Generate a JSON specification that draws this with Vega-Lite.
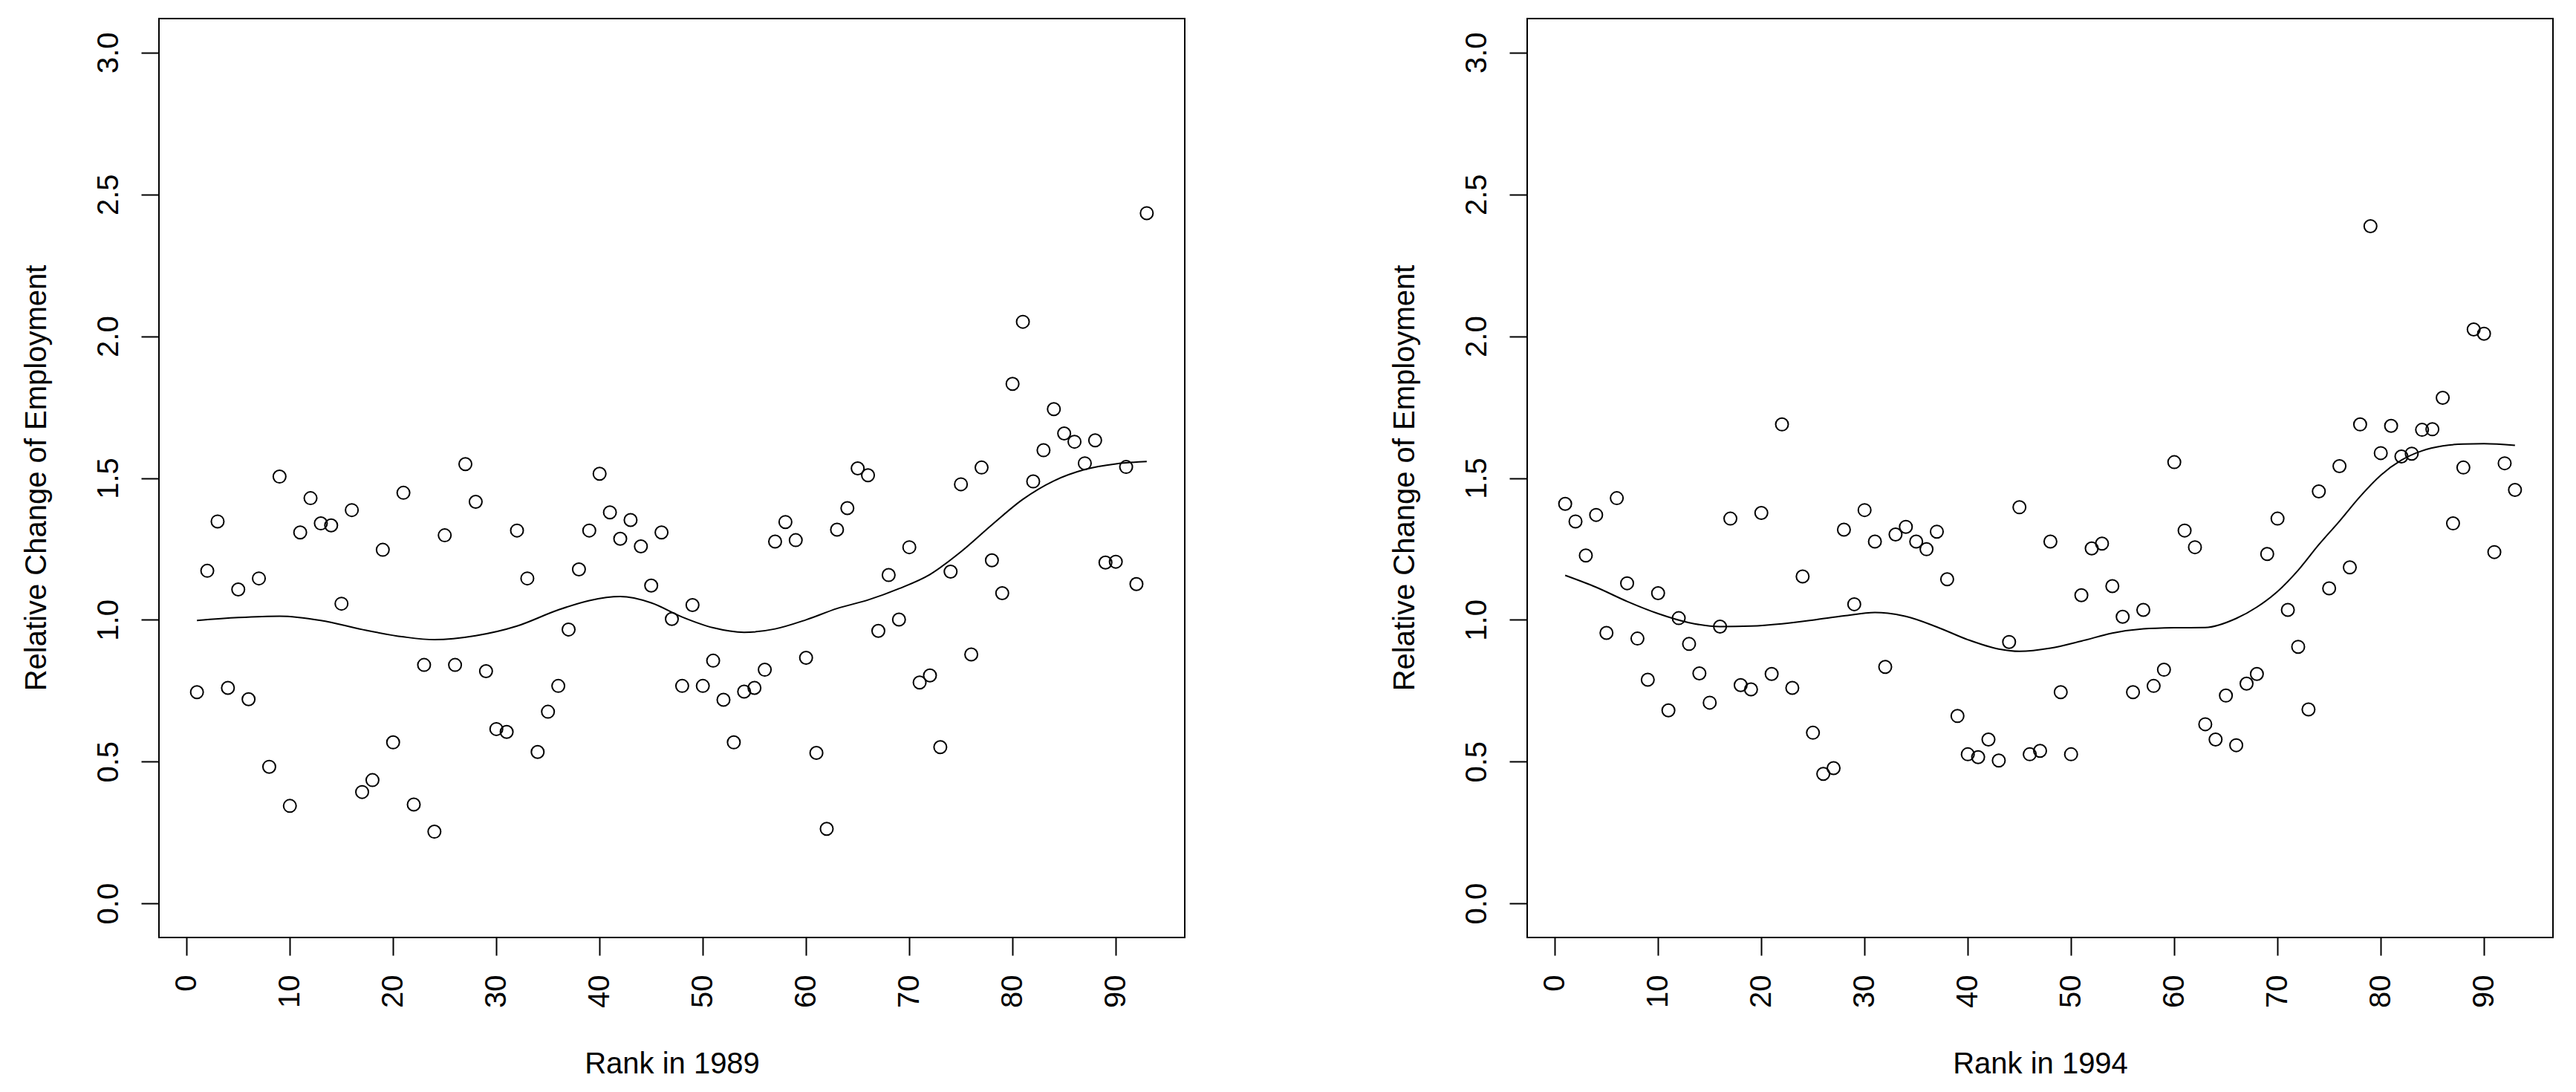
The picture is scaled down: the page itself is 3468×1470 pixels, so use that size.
{
  "$schema": "https://vega.github.io/schema/vega-lite/v6.json",
  "background": "white",
  "padding": {"left": 28, "top": 24, "right": 0, "bottom": 0},
  "config": {
    "font": "Liberation Sans",
    "view": {"stroke": "black", "strokeWidth": 2},
    "axis": {
      "domain": false, "grid": false,
      "tickSize": 24, "tickWidth": 2, "tickColor": "black",
      "labelFontSize": 40, "labelColor": "black", "labelOverlap": false, "labelFlush": false,
      "titleFontSize": 40, "titleFontWeight": "normal", "titleColor": "black"
    }
  },
  "datasets": {
    "p89": [
      {"r":1,"v":0.745},{"r":2,"v":1.173},{"r":3,"v":1.347},{"r":4,"v":0.76},{"r":5,"v":1.107},{"r":6,"v":0.72},{"r":7,"v":1.146},{"r":8,"v":0.482},{"r":9,"v":1.505},{"r":10,"v":0.344},
      {"r":11,"v":1.308},{"r":12,"v":1.429},{"r":13,"v":1.34},{"r":14,"v":1.333},{"r":15,"v":1.057},{"r":16,"v":1.387},{"r":17,"v":0.393},{"r":18,"v":0.435},{"r":19,"v":1.247},{"r":20,"v":0.568},
      {"r":21,"v":1.448},{"r":22,"v":0.349},{"r":23,"v":0.841},{"r":24,"v":0.253},{"r":25,"v":1.298},{"r":26,"v":0.841},{"r":27,"v":1.549},{"r":28,"v":1.416},{"r":29,"v":0.819},{"r":30,"v":0.615},
      {"r":31,"v":0.605},{"r":32,"v":1.315},{"r":33,"v":1.146},{"r":34,"v":0.534},{"r":35,"v":0.676},{"r":36,"v":0.767},{"r":37,"v":0.966},{"r":38,"v":1.178},{"r":39,"v":1.315},{"r":40,"v":1.515},
      {"r":41,"v":1.379},{"r":42,"v":1.286},{"r":43,"v":1.352},{"r":44,"v":1.259},{"r":45,"v":1.121},{"r":46,"v":1.308},{"r":47,"v":1.003},{"r":48,"v":0.767},{"r":49,"v":1.052},{"r":50,"v":0.767},
      {"r":51,"v":0.856},{"r":52,"v":0.718},{"r":53,"v":0.568},{"r":54,"v":0.747},{"r":55,"v":0.76},{"r":56,"v":0.824},{"r":57,"v":1.276},{"r":58,"v":1.345},{"r":59,"v":1.281},{"r":60,"v":0.866},
      {"r":61,"v":0.531},{"r":62,"v":0.263},{"r":63,"v":1.318},{"r":64,"v":1.394},{"r":65,"v":1.534},{"r":66,"v":1.51},{"r":67,"v":0.961},{"r":68,"v":1.158},{"r":69,"v":1.001},{"r":70,"v":1.256},
      {"r":71,"v":0.779},{"r":72,"v":0.804},{"r":73,"v":0.551},{"r":74,"v":1.17},{"r":75,"v":1.478},{"r":76,"v":0.878},{"r":77,"v":1.537},{"r":78,"v":1.21},{"r":79,"v":1.094},{"r":80,"v":1.832},
      {"r":81,"v":2.051},{"r":82,"v":1.488},{"r":83,"v":1.598},{"r":84,"v":1.743},{"r":85,"v":1.657},{"r":86,"v":1.628},{"r":87,"v":1.552},{"r":88,"v":1.633},{"r":89,"v":1.202},{"r":90,"v":1.205},
      {"r":91,"v":1.539},{"r":92,"v":1.126},{"r":93,"v":2.434}
    ],
    "p94": [
      {"r":1,"v":1.409},{"r":2,"v":1.347},{"r":3,"v":1.227},{"r":4,"v":1.37},{"r":5,"v":0.954},{"r":6,"v":1.429},{"r":7,"v":1.129},{"r":8,"v":0.934},{"r":9,"v":0.789},{"r":10,"v":1.094},
      {"r":11,"v":0.681},{"r":12,"v":1.006},{"r":13,"v":0.915},{"r":14,"v":0.811},{"r":15,"v":0.708},{"r":16,"v":0.976},{"r":17,"v":1.357},{"r":18,"v":0.77},{"r":19,"v":0.755},{"r":20,"v":1.377},
      {"r":21,"v":0.809},{"r":22,"v":1.689},{"r":23,"v":0.76},{"r":24,"v":1.153},{"r":25,"v":0.602},{"r":26,"v":0.457},{"r":27,"v":0.477},{"r":28,"v":1.318},{"r":29,"v":1.055},{"r":30,"v":1.387},
      {"r":31,"v":1.276},{"r":32,"v":0.834},{"r":33,"v":1.301},{"r":34,"v":1.328},{"r":35,"v":1.276},{"r":36,"v":1.249},{"r":37,"v":1.311},{"r":38,"v":1.143},{"r":39,"v":0.661},{"r":40,"v":0.526},
      {"r":41,"v":0.516},{"r":42,"v":0.578},{"r":43,"v":0.504},{"r":44,"v":0.922},{"r":45,"v":1.397},{"r":46,"v":0.526},{"r":47,"v":0.538},{"r":48,"v":1.276},{"r":49,"v":0.745},{"r":50,"v":0.526},
      {"r":51,"v":1.087},{"r":52,"v":1.252},{"r":53,"v":1.269},{"r":54,"v":1.119},{"r":55,"v":1.011},{"r":56,"v":0.745},{"r":57,"v":1.035},{"r":58,"v":0.767},{"r":59,"v":0.824},{"r":60,"v":1.556},
      {"r":61,"v":1.315},{"r":62,"v":1.256},{"r":63,"v":0.632},{"r":64,"v":0.578},{"r":65,"v":0.733},{"r":66,"v":0.558},{"r":67,"v":0.775},{"r":68,"v":0.809},{"r":69,"v":1.232},{"r":70,"v":1.357},
      {"r":71,"v":1.035},{"r":72,"v":0.905},{"r":73,"v":0.684},{"r":74,"v":1.453},{"r":75,"v":1.111},{"r":76,"v":1.542},{"r":77,"v":1.185},{"r":78,"v":1.689},{"r":79,"v":2.388},{"r":80,"v":1.588},
      {"r":81,"v":1.684},{"r":82,"v":1.576},{"r":83,"v":1.586},{"r":84,"v":1.67},{"r":85,"v":1.672},{"r":86,"v":1.783},{"r":87,"v":1.34},{"r":88,"v":1.537},{"r":89,"v":2.024},{"r":90,"v":2.009},
      {"r":91,"v":1.239},{"r":92,"v":1.552},{"r":93,"v":1.458}
    ],
    "s89": [
      {"r":1,"v":0.998},{"r":5,"v":1.008},{"r":9,"v":1.013},{"r":13,"v":0.998},{"r":17,"v":0.966},{"r":21,"v":0.94},{"r":24,"v":0.93},{"r":28,"v":0.944},
      {"r":32,"v":0.978},{"r":36,"v":1.035},{"r":39,"v":1.068},{"r":42,"v":1.082},{"r":45,"v":1.06},{"r":48,"v":1.01},{"r":51,"v":0.972},{"r":54,"v":0.956},
      {"r":57,"v":0.968},{"r":60,"v":1.0},{"r":63,"v":1.04},{"r":66,"v":1.07},{"r":69,"v":1.11},{"r":72,"v":1.16},{"r":75,"v":1.24},{"r":78,"v":1.335},
      {"r":81,"v":1.425},{"r":84,"v":1.49},{"r":87,"v":1.53},{"r":90,"v":1.55},{"r":93,"v":1.558}
    ],
    "s94": [
      {"r":1,"v":1.157},{"r":4,"v":1.115},{"r":7,"v":1.065},{"r":10,"v":1.022},{"r":13,"v":0.99},{"r":16,"v":0.976},{"r":19,"v":0.978},{"r":22,"v":0.986},
      {"r":25,"v":0.999},{"r":28,"v":1.014},{"r":31,"v":1.026},{"r":34,"v":1.012},{"r":37,"v":0.975},{"r":40,"v":0.93},{"r":43,"v":0.897},{"r":45,"v":0.889},
      {"r":48,"v":0.9},{"r":51,"v":0.925},{"r":54,"v":0.953},{"r":57,"v":0.968},{"r":60,"v":0.972},{"r":63,"v":0.973},{"r":66,"v":1.005},{"r":68,"v":1.045},
      {"r":70,"v":1.1},{"r":72,"v":1.175},{"r":74,"v":1.265},{"r":76,"v":1.348},{"r":78,"v":1.435},{"r":80,"v":1.51},{"r":82,"v":1.563},{"r":84,"v":1.596},
      {"r":86,"v":1.613},{"r":88,"v":1.62},{"r":90,"v":1.621},{"r":93,"v":1.615}
    ]
  },
  "spacing": 461,
  "bounds": "flush",
  "hconcat": [
    {
      "width": 1381,
      "height": 1237,
      "layer": [
        {
          "data": {"name": "p89"},
          "mark": {"type": "point", "shape": "circle", "filled": false, "size": 289, "strokeWidth": 2, "color": "black", "opacity": 1},
          "encoding": {
            "x": {"field": "r", "type": "quantitative", "title": "Rank in 1989",
              "scale": {"domain": [-2.68, 96.68], "nice": false, "zero": false},
              "axis": {"values": [0,10,20,30,40,50,60,70,80,90], "labelAngle": -90, "labelAlign": "right", "labelBaseline": "middle", "labelPadding": 26, "titleBaseline": "alphabetic", "titleY": 182}},
            "y": {"field": "v", "type": "quantitative", "title": "Relative Change of Employment",
              "scale": {"domain": [-0.12, 3.12], "nice": false, "zero": false},
              "axis": {"values": [0,0.5,1,1.5,2,2.5,3], "format": ".1f", "labelAngle": -90, "labelAlign": "center", "labelBaseline": "alphabetic", "labelPadding": 32, "titleAngle": -90, "titleBaseline": "alphabetic", "titleX": -153, "titleY": 618}}
          }
        },
        {
          "data": {"name": "s89"},
          "mark": {"type": "line", "interpolate": "monotone", "strokeWidth": 2, "color": "black"},
          "encoding": {
            "x": {"field": "r", "type": "quantitative"},
            "y": {"field": "v", "type": "quantitative"}
          }
        }
      ]
    },
    {
      "width": 1381,
      "height": 1237,
      "layer": [
        {
          "data": {"name": "p94"},
          "mark": {"type": "point", "shape": "circle", "filled": false, "size": 289, "strokeWidth": 2, "color": "black", "opacity": 1},
          "encoding": {
            "x": {"field": "r", "type": "quantitative", "title": "Rank in 1994",
              "scale": {"domain": [-2.68, 96.68], "nice": false, "zero": false},
              "axis": {"values": [0,10,20,30,40,50,60,70,80,90], "labelAngle": -90, "labelAlign": "right", "labelBaseline": "middle", "labelPadding": 26, "titleBaseline": "alphabetic", "titleY": 182}},
            "y": {"field": "v", "type": "quantitative", "title": "Relative Change of Employment",
              "scale": {"domain": [-0.12, 3.12], "nice": false, "zero": false},
              "axis": {"values": [0,0.5,1,1.5,2,2.5,3], "format": ".1f", "labelAngle": -90, "labelAlign": "center", "labelBaseline": "alphabetic", "labelPadding": 32, "titleAngle": -90, "titleBaseline": "alphabetic", "titleX": -153, "titleY": 618}}
          }
        },
        {
          "data": {"name": "s94"},
          "mark": {"type": "line", "interpolate": "monotone", "strokeWidth": 2, "color": "black"},
          "encoding": {
            "x": {"field": "r", "type": "quantitative"},
            "y": {"field": "v", "type": "quantitative"}
          }
        }
      ]
    }
  ]
}
